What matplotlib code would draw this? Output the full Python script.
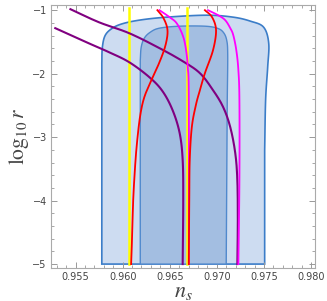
import matplotlib

matplotlib.use("Agg")
import matplotlib.pyplot as plt
import numpy as np
from matplotlib.ticker import MultipleLocator

plt.rcParams["mathtext.fontset"] = "stix"

# contour regions (n_s, log10 r)
outer_ns = [0.95779, 0.95779, 0.95784, 0.95811, 0.95876, 0.95983, 0.96176, 0.96466,
            0.96895, 0.97174, 0.97356, 0.97496, 0.97550, 0.97539, 0.97517, 0.97507, 0.97507]
outer_r = [-5.0, -1.835, -1.598, -1.409, -1.299, -1.220, -1.157, -1.110,
           -1.079, -1.110, -1.173, -1.268, -1.520, -1.898, -2.417, -3.205, -5.0]

inner_ns = [0.96187, 0.96187, 0.96197, 0.96230, 0.96294, 0.96391, 0.96605, 0.96873,
            0.97002, 0.97067, 0.97104, 0.97115, 0.97110, 0.97099]
inner_r = [-5.0, -1.787, -1.583, -1.441, -1.346, -1.283, -1.252, -1.252,
           -1.283, -1.346, -1.472, -1.709, -2.417, -5.0]

# model predictions
yellow_ns = [0.96069, 0.96680]
yellow_r = [-0.97, -5.0]

red1_ns = [0.96369, 0.96434, 0.96476, 0.96455, 0.96391, 0.96305, 0.96230, 0.96187,
           0.96155, 0.96133, 0.96112, 0.96101, 0.96090]
red1_r = [-1.0, -1.126, -1.315, -1.551, -1.819, -2.102, -2.370, -2.654,
          -3.047, -3.441, -3.992, -4.543, -5.0]
red2_ns = [0.96873, 0.96949, 0.96991, 0.96959, 0.96873, 0.96820, 0.96777, 0.96734,
           0.96712, 0.96707, 0.96702]
red2_r = [-1.0, -1.110, -1.315, -1.630, -1.992, -2.260, -2.496, -2.843,
          -3.362, -3.992, -5.0]

mag1_ns = [0.96391, 0.96498, 0.96573, 0.96637, 0.96670, 0.96691, 0.96702, 0.96702]
mag1_r = [-1.0, -1.110, -1.205, -1.394, -1.598, -1.898, -2.417, -5.0]
mag2_ns = [0.96906, 0.97013, 0.97088, 0.97142, 0.97174, 0.97206, 0.97228, 0.97239,
           0.97239, 0.97228]
mag2_r = [-1.0, -1.079, -1.157, -1.283, -1.394, -1.630, -1.945, -2.417, -3.677, -5.0]

pur1_ns = [0.95446, 0.95747, 0.96069, 0.96391, 0.96637, 0.96820, 0.96959, 0.97067,
           0.97142, 0.97195, 0.97217, 0.97222, 0.97217]
pur1_r = [-0.984, -1.189, -1.362, -1.598, -1.803, -1.992, -2.260, -2.528,
          -2.843, -3.252, -3.677, -4.307, -5.0]
pur2_ns = [0.95285, 0.95639, 0.95854, 0.96069, 0.96283, 0.96423, 0.96530, 0.96605,
           0.96637, 0.96643, 0.96637]
pur2_r = [-1.283, -1.520, -1.661, -1.819, -2.055, -2.276, -2.575, -2.937,
          -3.362, -3.992, -5.0]


def smooth(xs, ys, n=12):
    # Catmull-Rom through the read-off points, only for drawing
    p = np.column_stack([xs, ys]).astype(float)
    p = np.vstack([2 * p[0] - p[1], p, 2 * p[-1] - p[-2]])
    t = np.linspace(0, 1, n, endpoint=False)[:, None]
    out = []
    for i in range(1, len(p) - 2):
        p0, p1, p2, p3 = p[i - 1], p[i], p[i + 1], p[i + 2]
        seg = 0.5 * ((2 * p1) + (-p0 + p2) * t + (2 * p0 - 5 * p1 + 4 * p2 - p3) * t ** 2
                     + (-p0 + 3 * p1 - 3 * p2 + p3) * t ** 3)
        out.append(seg)
    out.append(p[-2][None, :])
    out = np.vstack(out)
    return out[:, 0], out[:, 1]


def region(xs, ys):
    # straight bottom corners, smoothed top
    sx, sy = smooth(xs[1:-1], ys[1:-1])
    return np.r_[xs[0], sx, xs[-1]], np.r_[ys[0], sy, ys[-1]]


fig = plt.figure(figsize=(3.27, 3.01), dpi=100)
ax = fig.add_axes([0.156, 0.110, 0.807, 0.873])

ox, oy = region(outer_ns, outer_r)
ix, iy = region(inner_ns, inner_r)
ax.fill(ox, oy, facecolor="#cddcf1", edgecolor="#3b7dc8", lw=1.2, zorder=1)
ax.fill(ix, iy, facecolor="#a3bee1", edgecolor="#5089cd", lw=1.0, zorder=2)

for x in yellow_ns:
    ax.plot([x, x], yellow_r, color="#ffff00", lw=1.8, zorder=3)
for xs, ys, c, lw, z in [
    (pur1_ns, pur1_r, "#800080", 1.5, 4),
    (pur2_ns, pur2_r, "#800080", 1.5, 4),
    (mag1_ns, mag1_r, "#ff00ff", 1.3, 5),
    (mag2_ns, mag2_r, "#ff00ff", 1.3, 5),
    (red1_ns, red1_r, "#ff0000", 1.3, 6),
    (red2_ns, red2_r, "#ff0000", 1.3, 6),
]:
    sx, sy = smooth(xs, ys)
    ax.plot(sx, sy, color=c, lw=lw, zorder=z)

ax.set_xlim(0.9524, 0.9804)
ax.set_ylim(-5.06, -0.92)
ax.set_xticks([0.955, 0.960, 0.965, 0.970, 0.975, 0.980])
ax.set_xticklabels(["0.955", "0.960", "0.965", "0.970", "0.975", "0.980"])
ax.set_yticks([-5, -4, -3, -2, -1])
ax.set_yticklabels(["\u22125", "\u22124", "\u22123", "\u22122", "\u22121"])
ax.xaxis.set_minor_locator(MultipleLocator(0.001))
ax.yaxis.set_minor_locator(MultipleLocator(0.2))
ax.tick_params(which="both", direction="in", top=True, right=True, color="#999999",
               labelcolor="#444444", labelsize=7, pad=3)
ax.tick_params(which="major", length=4, width=0.7)
ax.tick_params(which="minor", length=2, width=0.6)
for sp in ax.spines.values():
    sp.set_color("#aaaaaa")
    sp.set_linewidth(0.8)

ax.set_xlabel(r"$n_s$", fontsize=16, color="#444444", labelpad=0)
ax.set_ylabel(r"$\log_{10} r$", fontsize=15.5, color="#444444", labelpad=1)

fig.savefig("out.png", dpi=100)
